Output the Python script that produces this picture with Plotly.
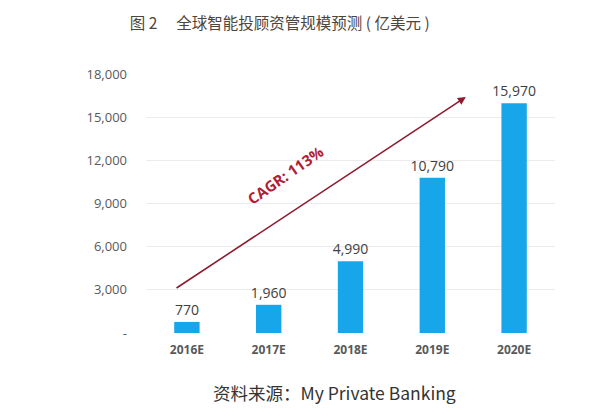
import plotly.graph_objects as go

# Chart data
years = ["2016E", "2017E", "2018E", "2019E", "2020E"]
aum = [770, 1960, 4990, 10790, 15970]
bar_labels = ["770", "1,960", "4,990", "10,790", "15,970"]

y_ticks = [0, 3000, 6000, 9000, 12000, 15000, 18000]
y_tick_text = ["-", "3,000", "6,000", "9,000", "12,000", "15,000", "18,000"]

title = "图 2　 全球智能投顾资管规模预测 ( 亿美元 )"
source = "资料来源：My Private Banking"
cagr_text = "CAGR: 113%"

fig = go.Figure()
fig.add_trace(go.Bar(x=years, y=aum, text=bar_labels,
                     textposition="outside", cliponaxis=False,
                     constraintext="none",
                     textfont=dict(size=14, color="#404040",
                                   family="Open Sans"),
                     marker=dict(color="#17a6ea", line_width=0),
                     width=0.31))

# Red trend arrow with the CAGR note.
fig.add_annotation(x=3.41, y=16400, ax=-0.145, ay=3060,
                   xref="x", yref="y", axref="x", ayref="y",
                   text="", showarrow=True, arrowhead=2, arrowsize=1,
                   arrowwidth=1.6, arrowcolor="#8e1b2e")
fig.add_annotation(x=1.2, y=11000, xref="x", yref="y", text=cagr_text,
                   showarrow=False, textangle=-35,
                   font=dict(size=15, color="#b02035",
                             family="Open Sans", weight="bold"))

fig.update_layout(
    width=600, height=417,
    margin=dict(l=138, r=53, t=66, b=92),
    paper_bgcolor="white", plot_bgcolor="white",
    showlegend=False,
    title=dict(text=title, x=0.453, xanchor="center", y=0.962,
               yanchor="middle",
               font=dict(size=15.5, color="#4e453b",
                         family="Noto Sans CJK SC")),
)
fig.add_annotation(text=source, xref="paper", yref="paper",
                   x=0.462, y=-0.228, xanchor="center", yanchor="middle",
                   showarrow=False,
                   font=dict(size=17.5, color="#333333",
                             family="Noto Sans CJK SC"))

fig.update_xaxes(range=[-0.5, 4.5], showline=False, ticks="",
                 showgrid=False, ticklabelstandoff=8,
                 tickfont=dict(size=12, color="#595959",
                               family="Open Sans", weight="bold"))
fig.update_yaxes(range=[0, 18000], tickvals=y_ticks, ticktext=y_tick_text,
                 showgrid=True, gridcolor="#ececec", gridwidth=1,
                 zeroline=False, showline=False, ticks="",
                 ticklabelstandoff=18,
                 tickfont=dict(size=13, color="#595959",
                               family="Open Sans"))

fig.write_html("out.html")
